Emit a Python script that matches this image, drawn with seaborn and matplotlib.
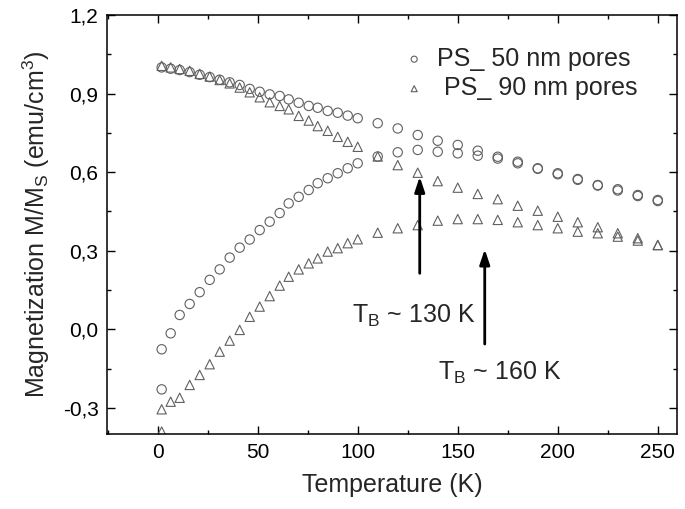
import numpy as np
import pandas as pd
import seaborn as sns
import matplotlib.pyplot as plt
from matplotlib.ticker import MultipleLocator, FixedLocator, FixedFormatter

# температуры (K): шаг ~5 K до 100 K, дальше 10 K
t_low = [2, 6.5, 11, 16, 21, 26, 31, 36, 41, 46, 51, 56, 61, 65.5, 70.5,
         75.5, 80, 85, 90, 95, 100]
t_high = [110, 120, 130, 140, 150, 160, 170, 180, 190, 200, 210, 220, 230, 240, 250]
t_fc = t_low + t_high
t_zfc = [2] + t_low + t_high   # в ZFC две точки при 2 K

# PS_ 50 nm pores
m50_fc = [1.0, 0.995, 0.99, 0.982, 0.972, 0.963, 0.953, 0.943, 0.933, 0.918, 0.907,
          0.897, 0.891, 0.878, 0.865, 0.853, 0.846, 0.834, 0.827, 0.816, 0.806,
          0.787, 0.767, 0.742, 0.72, 0.704, 0.682, 0.659, 0.64, 0.615, 0.596,
          0.574, 0.551, 0.535, 0.513, 0.494]
m50_zfc = [-0.229, -0.076, -0.015, 0.055, 0.097, 0.142, 0.189, 0.229, 0.274, 0.312,
           0.343, 0.379, 0.411, 0.444, 0.481, 0.506, 0.532, 0.558, 0.577, 0.596,
           0.615, 0.634, 0.66, 0.676, 0.685, 0.678, 0.672, 0.663, 0.652, 0.634,
           0.613, 0.592, 0.571, 0.549, 0.53, 0.509, 0.49]

# PS_ 90 nm pores
m90_fc = [1.006, 1.0, 0.994, 0.987, 0.975, 0.965, 0.952, 0.939, 0.923, 0.905, 0.886,
          0.867, 0.853, 0.84, 0.815, 0.797, 0.776, 0.758, 0.735, 0.716, 0.697,
          0.66, 0.627, 0.598, 0.566, 0.541, 0.517, 0.497, 0.472, 0.453, 0.43,
          0.409, 0.39, 0.367, 0.348, 0.322]
m90_zfc = [-0.39, -0.305, -0.276, -0.261, -0.212, -0.174, -0.133, -0.085, -0.043,
           -0.002, 0.048, 0.087, 0.127, 0.167, 0.201, 0.229, 0.252, 0.271, 0.297,
           0.31, 0.329, 0.344, 0.369, 0.386, 0.398, 0.415, 0.421, 0.421, 0.418,
           0.409, 0.398, 0.386, 0.373, 0.367, 0.354, 0.339, 0.322]

labels = ['PS_ 50 nm pores', ' PS_ 90 nm pores']
y_ticks = [-0.3, 0.0, 0.3, 0.6, 0.9, 1.2]
y_tick_labels = ['-0,3', '0,0', '0,3', '0,6', '0,9', '1,2']
x_ticks = [0, 50, 100, 150, 200, 250]

sns.set_style('ticks')
plt.rcParams['font.family'] = ['Liberation Sans', 'DejaVu Sans']
plt.rcParams['mathtext.default'] = 'regular'

df = pd.concat([
    pd.DataFrame({'T': t_fc + t_zfc, 'M': m50_fc + m50_zfc, 'sample': labels[0]}),
    pd.DataFrame({'T': t_fc + t_zfc, 'M': m90_fc + m90_zfc, 'sample': labels[1]}),
])

fig = plt.figure(figsize=(6.85, 5.09), dpi=100)
ax = fig.add_axes([0.156, 0.147, 0.832, 0.8235])

markers = {labels[0]: 'o', labels[1]: '^'}
for lab in labels:
    d = df[df['sample'] == lab]
    sns.scatterplot(data=d, x='T', y='M', ax=ax, marker=markers[lab], s=45,
                    color='#606060', facecolor='none', edgecolor='#606060',
                    linewidth=0.8, label=lab, legend=False)

# стрелки T_B
arr = dict(arrowstyle='-|>,head_length=0.9,head_width=0.3', lw=2, color='black',
           shrinkA=0, shrinkB=0)
ax.annotate('', xy=(131, 0.583), xytext=(131, 0.214), arrowprops=arr)
ax.annotate('', xy=(163.5, 0.306), xytext=(163.5, -0.056), arrowprops=arr)
ax.text(97.3, 0.024, 'T$_B$ ~ 130 K', fontsize=18, ha='left', va='baseline')
ax.text(140.2, -0.193, 'T$_B$ ~ 160 K', fontsize=18, ha='left', va='baseline')

ax.set_xlim(-25.4, 259.5)
ax.set_ylim(-0.4, 1.2)
ax.xaxis.set_major_locator(FixedLocator(x_ticks))
ax.xaxis.set_minor_locator(MultipleLocator(25))
ax.yaxis.set_major_locator(FixedLocator(y_ticks))
ax.yaxis.set_major_formatter(FixedFormatter(y_tick_labels))
ax.yaxis.set_minor_locator(MultipleLocator(0.15))
ax.tick_params(which='both', direction='in', top=True, right=True, width=1, pad=6,
               labelsize=15, colors='black')
ax.tick_params(which='major', length=6)
ax.tick_params(which='minor', length=2.6)
for sp in ax.spines.values():
    sp.set_linewidth(1.1)
    sp.set_color('black')

ax.set_xlabel('Temperature (K)', fontsize=18, labelpad=8)
ax.set_ylabel('Magnetization M/M$_S$ (emu/cm$^3$)', fontsize=18, labelpad=8)

leg = ax.legend(loc='upper right', bbox_to_anchor=(0.97, 0.978), frameon=False,
                fontsize=18, markerscale=0.65, handletextpad=0.4, labelspacing=0.22,
                handlelength=1.0)

fig.savefig('out.png', dpi=100)
